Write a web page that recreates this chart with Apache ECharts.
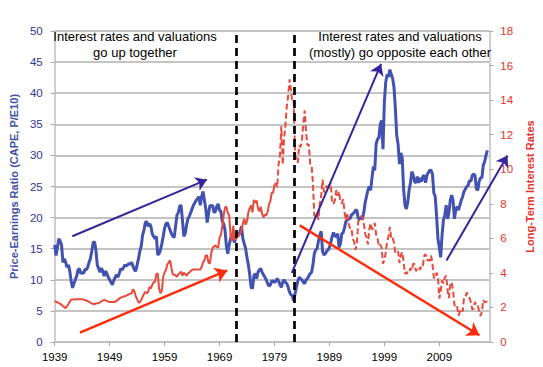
<!DOCTYPE html>
<html><head><meta charset="utf-8">
<script src="https://cdn.jsdelivr.net/npm/echarts@6/dist/echarts.min.js"></script>
<style>html,body{margin:0;padding:0;background:#fff}#c{width:543px;height:367px}</style>
</head><body><div id="c"></div>
<script>
// ---- data (quarterly samples, first = Jan 1939) ----
const startYear = 1939;
const samplesPerYear = 4;
const xTickLabels = ['1939','1949','1959','1969','1979','1989','1999','2009'];
const capeValues = [
15.6,13.9,15.2,16.6, 16.2,15.6,12.8,13.4, 12.8,12.0,12.4,11.4, 9.8,8.7,9.4,10.0,
10.6,11.6,11.8,11.0, 11.2,11.0,11.7,11.6, 12.0,12.8,13.4,14.6, 16.0,16.1,14.8,12.4,
11.8,11.2,11.9,11.4, 10.6,11.4,11.0,10.4, 10.0,9.6,9.2,9.9, 10.4,10.8,10.4,11.0,
11.8,11.6,11.9,12.4, 12.2,12.4,12.6,12.5, 12.8,12.2,11.6,11.4, 12.4,13.4,14.6,15.4,
17.2,18.0,19.2,19.4, 18.6,19.0,18.6,17.4, 17.0,16.6,17.0,14.0, 14.2,14.8,15.8,17.0,
18.3,19.0,19.2,18.6, 18.0,17.4,17.0,16.8, 18.6,20.4,20.8,21.8, 22.0,19.6,17.0,17.4,
18.8,19.8,20.2,20.8, 21.4,22.0,22.4,22.8, 23.0,23.4,22.0,23.4, 24.2,22.8,21.4,19.2,
20.6,22.0,21.8,22.0, 20.8,21.0,21.8,22.2, 21.2,21.0,19.4,19.0, 18.0,15.4,14.2,15.6,
16.6,17.4,16.8,16.0, 17.2,17.4,17.2,17.8, 18.6,16.6,15.8,15.0, 13.6,12.4,10.8,8.8,
8.6,10.6,11.0,10.2, 11.2,11.6,11.8,11.2, 10.8,10.4,10.0,9.4, 9.0,9.2,9.8,9.8,
9.6,9.8,10.2,9.8, 9.2,8.8,9.6,10.0, 9.6,9.4,8.8,8.0, 7.6,7.4,6.6,7.8,
8.8,9.8,10.4,10.2, 10.0,9.6,9.4,10.0, 10.2,10.6,11.0,11.2, 12.4,14.2,14.8,15.0,
16.2,17.2,17.8,14.6, 14.0,14.2,14.6,14.8, 15.2,16.0,17.0,17.6, 17.0,17.0,17.4,15.2,
15.8,17.4,17.6,18.4, 19.4,19.6,19.8,19.8, 20.4,20.6,20.8,21.2, 21.2,19.8,19.8,20.0,
19.8,20.8,22.4,23.4, 24.4,25.0,24.4,26.4, 28.2,27.6,31.8,32.6, 32.8,35.0,35.6,31.0,
38.6,41.8,43.0,42.6, 43.8,43.0,42.4,41.0, 37.6,33.2,31.8,28.6, 30.4,29.6,24.6,22.0,
21.4,22.4,24.4,25.6, 27.4,26.8,25.8,25.6, 26.6,25.6,26.4,25.8, 26.6,26.8,25.6,26.8,
27.2,27.6,27.6,27.0, 24.0,23.4,20.4,16.6, 15.2,13.6,17.2,19.6, 20.4,22.0,19.8,20.8,
22.8,23.6,22.8,19.8, 21.2,21.8,21.2,22.0, 22.8,23.4,24.2,24.6, 25.0,25.2,26.0,25.8,
26.8,27.0,26.8,24.6, 24.4,25.8,26.4,26.4, 28.4,29.0,30.0,30.8
];
const rateValues = [
2.36,2.33,2.29,2.25, 2.21,2.15,2.08,2.02, 1.95,2.08,2.20,2.33, 2.46,2.46,2.46,2.47,
2.47,2.47,2.47,2.48, 2.48,2.45,2.43,2.40, 2.37,2.33,2.28,2.24, 2.19,2.21,2.22,2.24,
2.25,2.30,2.35,2.39, 2.44,2.41,2.38,2.34, 2.31,2.31,2.32,2.32, 2.32,2.38,2.45,2.51,
2.57,2.60,2.63,2.65, 2.68,2.72,2.76,2.79, 2.83,3.05,2.93,2.66, 2.48,2.29,2.30,2.43,
2.61,2.78,2.90,2.82, 2.90,3.18,3.11,3.30, 3.46,3.48,3.93,3.97, 3.09,2.82,2.97,3.79,
4.02,4.17,4.48,4.62, 4.72,4.28,3.90,3.91, 3.84,3.78,3.92,3.98, 4.08,3.84,4.01,3.93,
3.83,3.97,4.02,4.11, 4.17,4.20,4.19,4.19, 4.19,4.20,4.20,4.35, 4.61,4.72,5.02,5.01,
4.58,4.55,5.16,5.46, 5.53,5.59,5.50,5.46, 6.04,6.19,6.72,7.33, 7.79,7.83,7.46,7.33,
6.24,5.83,6.73,5.93, 5.95,6.23,6.11,6.29, 6.46,6.85,7.13,6.79, 6.99,7.51,7.75,7.90,
7.50,8.23,8.06,8.19, 7.74,7.56,7.83,7.41, 7.21,7.37,7.33,7.52, 7.96,8.15,8.64,8.64,
9.10,9.18,8.95,10.30, 10.80,12.50,10.25,11.75, 12.57,13.68,14.28,15.20, 14.59,13.87,13.95,10.91,
10.46,10.38,11.38,11.28, 11.67,12.65,13.40,12.16, 11.38,11.43,10.31,10.24, 9.19,7.30,7.30,7.43,
7.08,8.02,8.45,9.40, 8.67,8.72,9.06,8.80, 9.09,9.18,8.02,8.01, 8.21,8.79,8.47,8.72,
8.09,8.04,8.27,7.53, 7.03,7.48,6.84,6.59, 6.60,5.97,5.81,5.33, 5.75,6.97,7.10,7.30,
7.20,6.90,6.28,6.04, 5.65,6.51,6.87,6.53, 6.58,6.89,6.22,6.03, 5.54,5.64,5.46,4.53,
4.72,5.18,5.79,6.11, 6.66,5.99,6.05,5.74, 5.16,5.14,5.24,4.57, 5.04,5.21,4.65,3.94,
4.05,3.96,3.98,4.29, 4.15,4.53,4.50,4.10, 4.22,4.34,4.18,4.46, 4.42,4.99,5.09,4.73,
4.76,4.69,5.00,4.53, 3.74,3.68,4.01,3.81, 2.52,2.93,3.56,3.39, 3.73,3.85,3.01,2.54,
3.39,3.46,3.00,2.15, 1.97,2.05,1.53,1.75, 1.91,1.76,2.58,2.62, 2.86,2.71,2.54,2.30,
1.88,1.94,2.32,2.07, 2.09,1.81,1.50,1.76, 2.43,2.30,2.32,2.36
];
const dashFromYear = 1979;
const dividerYears = [1972.0, 1982.65];
// arrows: [[startYear, startValue], [endYear, endValue]] in left-axis units
const blueArrows = [
  [[1942.2, 17.0], [1966.7, 26.1]],
  [[1982.15, 11.1], [1998.4, 44.7]],
  [[2010.3, 13.1], [2021.4, 30.0]]
];
const redArrows = [
  [[1943.6, 1.5], [1970.4, 11.5]],
  [[1983.6, 18.75], [2016.3, 1.1]]
];
const leftAxisName = 'Price-Earnings Ratio (CAPE, P/E10)';
const rightAxisName = 'Long-Term Interest Rates';
const noteLeft = 'Interest rates and valuations\ngo up together';
const noteRight = 'Interest rates and valuations\n(mostly) go opposite each other';

// ---- build ----
const FONT = '"Liberation Sans", Arial, sans-serif';
const xOf = i => i / samplesPerYear;            // years since startYear
const capeData = capeValues.map((v, i) => [xOf(i), v]);
const rateAll = rateValues.map((v, i) => [xOf(i), v]);
const splitX = dashFromYear - startYear;
const rateSolid = rateAll.filter(p => p[0] <= splitX);
const rateDashed = rateAll.filter(p => p[0] >= splitX);
const toCoords = a => ({coords: [[a[0][0] - startYear, a[0][1]], [a[1][0] - startYear, a[1][1]]]});

const chart = echarts.init(document.getElementById('c'), null, {renderer: 'svg'});
chart.setOption({
  animation: false,
  backgroundColor: '#fff',
  grid: {left: 45, right: 36, top: 31, bottom: 25, containLabel: false},
  xAxis: {
    type: 'value', min: 0, max: 79.1, interval: 10,
    axisLine: {show: true, lineStyle: {color: '#BFBFBF', width: 1.5}},
    axisTick: {show: true, length: 4, lineStyle: {color: '#A6A6A6'}},
    splitLine: {show: false},
    axisLabel: {
      showMaxLabel: false, margin: 9, color: '#000', fontSize: 11.5, fontFamily: FONT,
      formatter: v => xTickLabels[Math.round(v / 10)] || ''
    }
  },
  yAxis: [{
    type: 'value', min: 0, max: 50, interval: 5, position: 'left',
    name: leftAxisName, nameLocation: 'middle', nameRotate: 90, nameGap: 29,
    nameTextStyle: {color: '#3F51A5', fontWeight: 'bold', fontSize: 11, fontFamily: FONT},
    axisLine: {show: true, lineStyle: {color: '#BFBFBF', width: 1.5}},
    axisTick: {show: true, length: 4, lineStyle: {color: '#A6A6A6'}},
    splitLine: {show: true, lineStyle: {color: '#C4C4C4', width: 2}},
    axisLabel: {margin: 12, color: '#33339A', fontSize: 11.5, fontFamily: FONT}
  }, {
    type: 'value', min: 0, max: 18, interval: 2, position: 'right',
    name: rightAxisName, nameLocation: 'middle', nameRotate: 90, nameGap: 25,
    nameTextStyle: {color: '#E8322A', fontWeight: 'bold', fontSize: 11, fontFamily: FONT},
    axisLine: {show: true, lineStyle: {color: '#BFBFBF', width: 1.5}},
    axisTick: {show: true, length: 4, lineStyle: {color: '#A6A6A6'}},
    splitLine: {show: false},
    axisLabel: {margin: 11, color: '#E8322A', fontSize: 11.5, fontFamily: FONT}
  }],
  series: [
    {type: 'line', name: 'CAPE', data: capeData, yAxisIndex: 0, showSymbol: false, symbol: 'none',
     lineStyle: {color: '#4252B0', width: 3}, z: 2},
    {type: 'line', name: 'Rates', data: rateSolid, yAxisIndex: 1, showSymbol: false, symbol: 'none',
     lineStyle: {color: '#E84A3C', width: 2}, z: 3},
    {type: 'line', name: 'Rates (dashed)', data: rateDashed, yAxisIndex: 1, showSymbol: false, symbol: 'none',
     lineStyle: {color: '#E84A3C', width: 2, type: [6, 3]}, z: 3},
    {type: 'lines', coordinateSystem: 'cartesian2d', xAxisIndex: 0, yAxisIndex: 0, clip: false, silent: true,
     symbol: ['none', 'none'],
     lineStyle: {color: '#000', width: 2.7, type: [8, 5], opacity: 1},
     data: dividerYears.map(y => ({coords: [[y - startYear, 0], [y - startYear, 49.6]]})), z: 4},
    {type: 'lines', coordinateSystem: 'cartesian2d', xAxisIndex: 0, yAxisIndex: 0, clip: false, silent: true,
     symbol: ['none', 'arrow'], symbolSize: [0, 11],
     lineStyle: {color: '#35259C', width: 2, opacity: 1},
     data: blueArrows.map(toCoords), z: 5},
    {type: 'lines', coordinateSystem: 'cartesian2d', xAxisIndex: 0, yAxisIndex: 0, clip: false, silent: true,
     symbol: ['none', 'arrow'], symbolSize: [0, 12],
     lineStyle: {color: '#FF2A0A', width: 2.4, opacity: 1},
     data: redArrows.map(toCoords), z: 5}
  ],
  graphic: [
    {type: 'text', x: 135, y: 28, silent: true, z: 10,
     style: {text: noteLeft, fill: '#000', fontSize: 13, fontFamily: FONT, align: 'center', verticalAlign: 'top', lineHeight: 16}},
    {type: 'text', x: 400, y: 28, silent: true, z: 10,
     style: {text: noteRight, fill: '#000', fontSize: 13, fontFamily: FONT, align: 'center', verticalAlign: 'top', lineHeight: 16}}
  ]
});
</script></body></html>
